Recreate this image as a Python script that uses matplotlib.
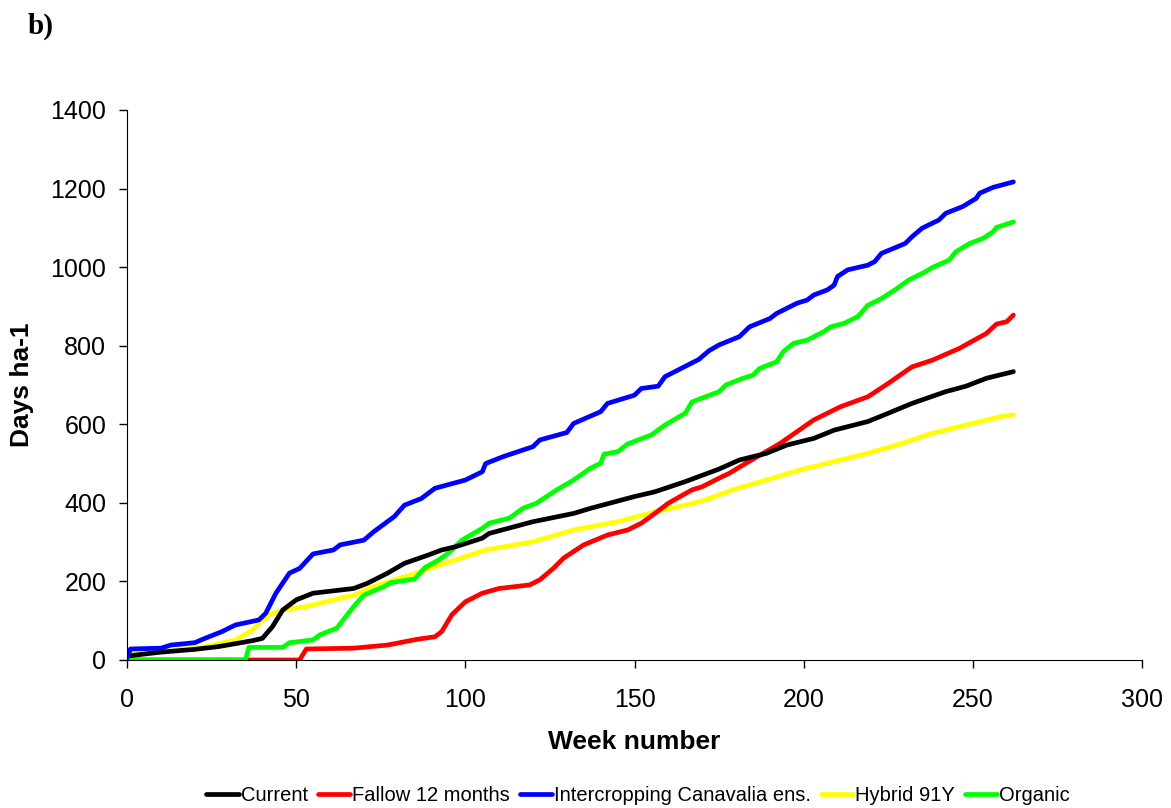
import matplotlib
matplotlib.use("Agg")
import matplotlib.pyplot as plt

# cumulative series (week number, days ha-1)
wk_current = [0, 10, 20, 27, 37, 40, 43, 46, 50, 55, 67, 71, 77, 82, 89, 93, 97, 105, 107, 120,
              132, 137, 150, 156, 165, 175, 181, 189, 195, 203, 209, 219, 225, 232, 242, 248, 254, 262]
current = [10, 20, 27, 34, 49, 55, 85, 127, 153, 170, 182, 195, 221, 246, 267, 280, 288, 310, 322, 352,
           373, 386, 416, 428, 454, 486, 509, 526, 547, 564, 585, 607, 628, 653, 683, 697, 717, 734]

wk_fallow = [0, 51, 53, 67, 77, 86, 91, 93, 96, 100, 105, 110, 119, 122, 126, 129, 135, 142, 148, 152,
             156, 160, 167, 170, 176, 178, 183, 193, 203, 211, 219, 225, 232, 238, 246, 254, 257, 260, 262]
fallow = [0, 0, 28, 30, 38, 53, 59, 72, 115, 148, 170, 182, 191, 204, 233, 259, 293, 318, 331, 348,
          373, 399, 433, 441, 467, 475, 501, 551, 611, 645, 670, 704, 746, 763, 793, 831, 855, 861, 878]

wk_interc = [0, 1, 10, 13, 20, 23, 28, 32, 39, 41, 44, 48, 51, 55, 61, 63, 70, 73, 79, 82, 87, 91, 100,
             105, 106, 111, 120, 122, 130, 132, 140, 142, 150, 152, 157, 159, 169, 172, 175, 181, 184,
             190, 192, 198, 201, 203, 207, 209, 210, 213, 219, 221, 223, 230, 232, 235, 240, 242, 247,
             251, 252, 256, 262]
interc = [5, 28, 30, 38, 44, 55, 72, 89, 102, 119, 170, 221, 233, 270, 280, 293, 305, 327, 365, 394, 411,
          437, 458, 479, 500, 517, 543, 560, 579, 602, 632, 653, 674, 691, 697, 721, 765, 787, 802, 823,
          848, 869, 882, 908, 916, 929, 942, 954, 976, 993, 1005, 1014, 1035, 1060, 1077, 1099, 1120,
          1137, 1154, 1175, 1188, 1203, 1217]

wk_hybrid = [0, 1, 11, 23, 32, 37, 42, 46, 53, 67, 73, 79, 87, 91, 100, 106, 120, 132, 145, 156, 165,
             170, 175, 179, 189, 199, 209, 219, 229, 238, 248, 258, 262]
hybrid = [0, 17, 21, 34, 51, 76, 115, 127, 136, 165, 187, 204, 225, 238, 263, 280, 301, 331, 352, 377,
          394, 405, 420, 433, 458, 484, 505, 526, 551, 577, 598, 619, 624]

wk_organic = [0, 35, 36, 46, 48, 55, 57, 62, 67, 70, 76, 78, 85, 88, 92, 95, 99, 105, 107, 113, 117, 121,
              127, 132, 137, 140, 141, 145, 148, 155, 159, 165, 167, 175, 177, 182, 185, 187, 192, 194,
              197, 201, 206, 208, 212, 216, 219, 223, 227, 231, 236, 238, 243, 245, 249, 253, 256, 257, 262]
organic = [0, 0, 32, 32, 44, 51, 64, 81, 136, 165, 187, 197, 206, 235, 254, 272, 305, 335, 348, 361, 386,
           399, 433, 458, 488, 501, 524, 530, 550, 573, 598, 628, 657, 683, 700, 717, 725, 742, 759, 785,
           806, 814, 836, 848, 857, 874, 903, 920, 942, 967, 988, 999, 1018, 1039, 1060, 1073, 1090,
           1101, 1115]

labels = ["Current", "Fallow 12 months", "Intercropping Canavalia ens.", "Hybrid 91Y", "Organic"]
colors = ["#000000", "#ff0000", "#0000ff", "#ffff00", "#00ff00"]

plt.rcParams["font.family"] = ["Liberation Sans", "DejaVu Sans"]

fig = plt.figure(figsize=(11.71, 8.08), dpi=100)
ax = fig.add_axes([0.1085, 0.1832, 0.8667, 0.6807])

series = [(wk_current, current), (wk_fallow, fallow), (wk_interc, interc),
          (wk_hybrid, hybrid), (wk_organic, organic)]
# draw order: yellow under the others where they overlap at the start
order = [3, 1, 4, 0, 2]
lines = {}
for i in order:
    x, y = series[i]
    lines[i], = ax.plot(x, y, color=colors[i], lw=3.4, solid_capstyle="round",
                        solid_joinstyle="round", label=labels[i])

ax.set_xlim(0, 300)
ax.set_ylim(0, 1400)
ax.set_xticks(range(0, 301, 50))
ax.set_yticks(range(0, 1401, 200))
ax.tick_params(labelsize=18, length=6, width=1, direction="out")
ax.tick_params(axis="x", pad=14)
ax.tick_params(axis="y", pad=9)
for s in ("top", "right"):
    ax.spines[s].set_visible(False)
ax.set_xlabel("Week number", fontsize=19, fontweight="bold", labelpad=13)
ax.set_ylabel("Days ha-1", fontsize=19, fontweight="bold", labelpad=12)

fig.text(0.024, 0.968, "b)", fontsize=21, fontweight="bold",
         family=["Liberation Serif", "DejaVu Serif"], va="center")

fig.legend([lines[i] for i in range(5)], labels, loc="center", bbox_to_anchor=(0.545, 0.016),
           ncol=5, frameon=False, fontsize=14.5, handlelength=1.6, handletextpad=0.1,
           columnspacing=0.5, borderaxespad=0)

fig.savefig("out.png", dpi=100)
